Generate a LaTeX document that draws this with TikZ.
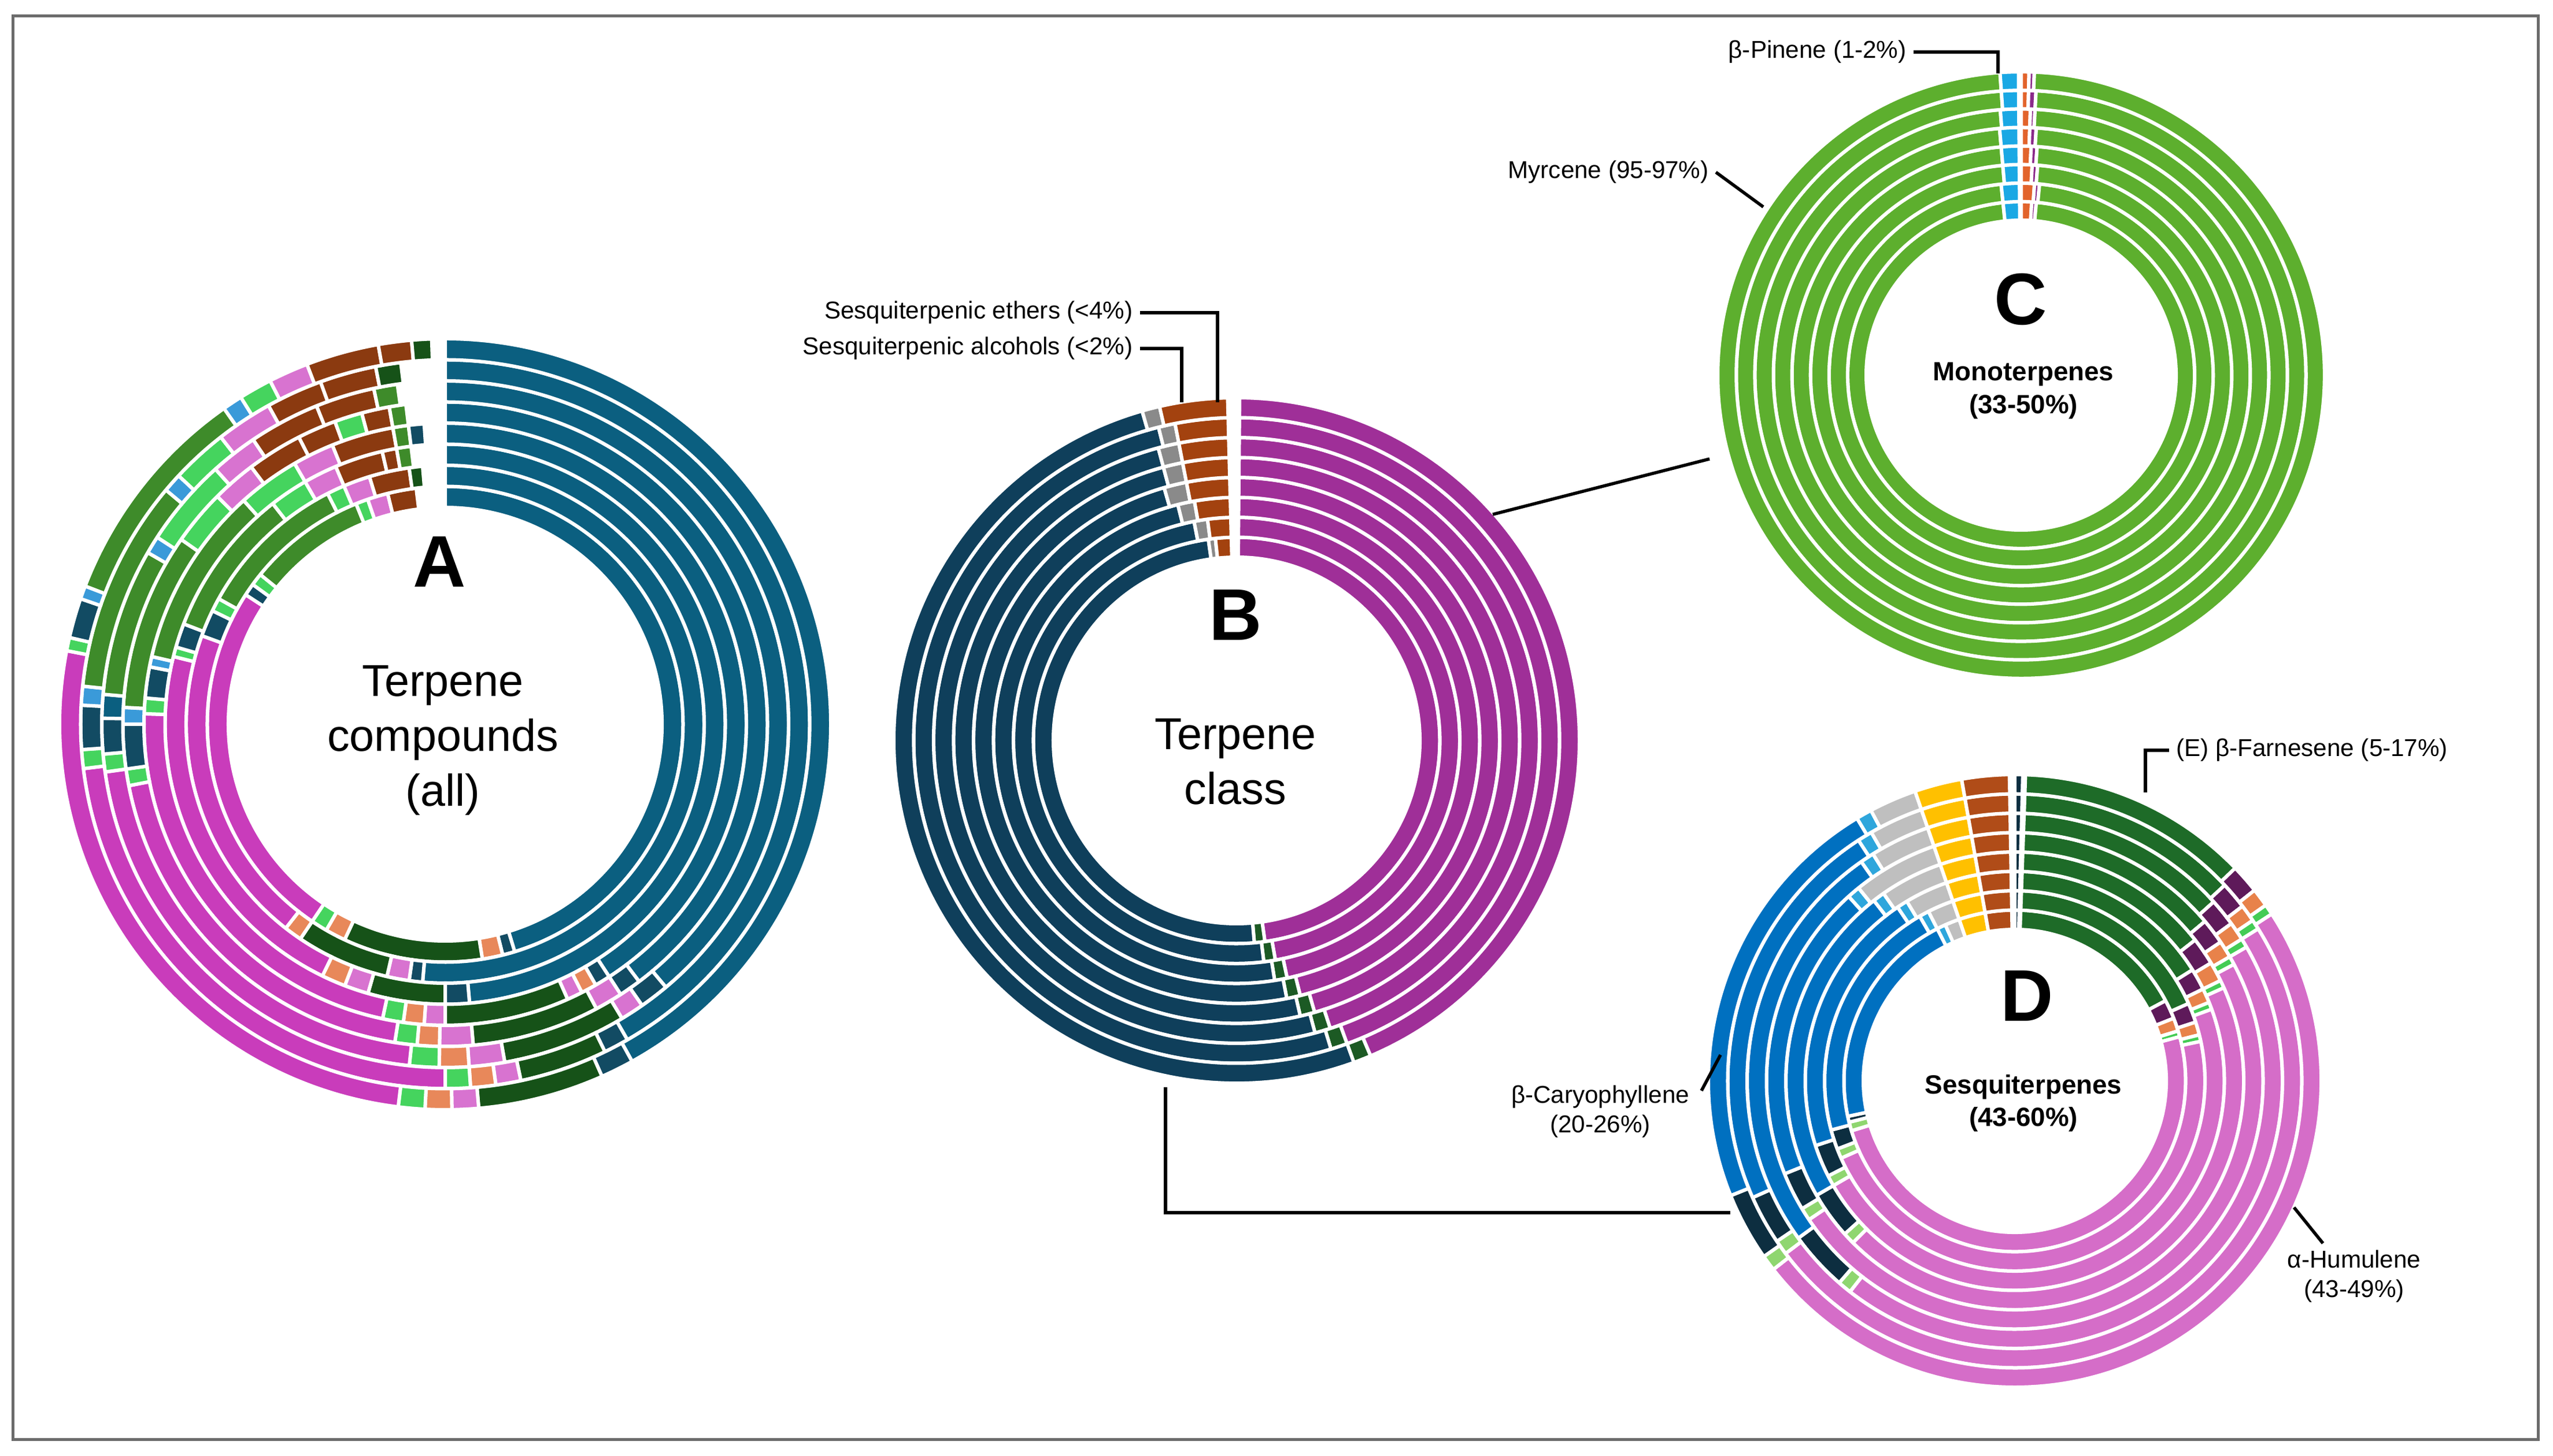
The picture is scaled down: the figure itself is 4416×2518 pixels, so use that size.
\documentclass[tikz,border=0pt]{standalone}
\usepackage{fontspec}
\setmainfont{Liberation Sans}
\usetikzlibrary{calc}
\definecolor{Ablu}{HTML}{0B5F80}\definecolor{Amag}{HTML}{C93CBB}\definecolor{Agr}{HTML}{3E8B2A}
\definecolor{Adg}{HTML}{165218}\definecolor{Abr}{HTML}{8B3A10}\definecolor{Algr}{HTML}{45D45E}
\definecolor{Apk}{HTML}{D873D0}\definecolor{Anav}{HTML}{124B63}\definecolor{Asb}{HTML}{3A9AD9}
\definecolor{Aor}{HTML}{E8885A}
\definecolor{Bnav}{HTML}{0F3F5B}\definecolor{Bpur}{HTML}{9F2F98}\definecolor{Bbr}{HTML}{A3420F}
\definecolor{Bgy}{HTML}{8A8A8A}\definecolor{Bdg}{HTML}{1C5A24}
\definecolor{Cgr}{HTML}{5DAF2E}\definecolor{Csk}{HTML}{1AA8E4}\definecolor{Cor}{HTML}{E2642C}\definecolor{Cpu}{HTML}{8B2A8A}
\definecolor{Dblu}{HTML}{0070C0}\definecolor{Dpk}{HTML}{D56DC8}\definecolor{Ddg}{HTML}{1E6B28}
\definecolor{Dbr}{HTML}{B04C18}\definecolor{Dye}{HTML}{FFC000}\definecolor{Dgy}{HTML}{BFBFBF}
\definecolor{Dnv}{HTML}{0D2E40}\definecolor{Dlg}{HTML}{8FD670}\definecolor{Dpu}{HTML}{5E1A5A}
\definecolor{Dsk}{HTML}{2EA6DC}\definecolor{Dor}{HTML}{E8824A}\definecolor{Dgl}{HTML}{44CC55}
\newcommand\sg[7]{\fill[fill=#7,draw=white,line width=0.6mm] ($(#1,#2)+({90-(#5)}:{(#4)*0.1mm})$) arc[start angle={90-(#5)},end angle={90-(#6)},radius={(#4)*0.1mm}] -- ($(#1,#2)+({90-(#6)}:{(#3)*0.1mm})$) arc[start angle={90-(#6)},end angle={90-(#5)},radius={(#3)*0.1mm}] -- cycle;}
\newcommand\Rg[5]{\foreach \a/\b/\c in {#5}{\sg{#1}{#2}{#3}{#4}{\a}{\b}{\c}}}
\newcommand\RA[2]{\pgfmathsetmacro\ri{375+(#1-1)*36.5}\pgfmathsetmacro\ro{\ri+36.5}\Rg{770}{1265}{\ri}{\ro}{#2}}
\newcommand\RB[2]{\pgfmathsetmacro\ri{317+(#1-1)*34.5}\pgfmathsetmacro\ro{\ri+34.5}\Rg{2139}{1237}{\ri}{\ro}{#2}}
\newcommand\RC[2]{\pgfmathsetmacro\ri{268+(#1-1)*32.1}\pgfmathsetmacro\ro{\ri+32.1}\Rg{3496}{1869}{\ri}{\ro}{#2}}
\newcommand\DRing[6]{\pgfmathsetmacro\ri{262+(#1-1)*33.5}\pgfmathsetmacro\ro{\ri+33.5}%
 \pgfmathsetmacro\m{(#2+#3)/2}%
 \sg{3485}{648}{\ri}{\ro}{0}{1.5}{Dnv}\sg{3485}{648}{\ri}{\ro}{2}{#2}{Ddg}%
 \sg{3485}{648}{\ri}{\ro}{#2}{\m}{Dpu}\sg{3485}{648}{\ri}{\ro}{\m}{#3-2}{Dor}\sg{3485}{648}{\ri}{\ro}{#3-2}{#3}{Dgl}%
 \sg{3485}{648}{\ri}{\ro}{#3}{#4}{Dpk}\sg{3485}{648}{\ri}{\ro}{#4}{#4+3}{Dlg}\sg{3485}{648}{\ri}{\ro}{#4+3}{#5}{Dnv}%
 \sg{3485}{648}{\ri}{\ro}{#5}{#6}{Dblu}\sg{3485}{648}{\ri}{\ro}{#6}{#6+3}{Dsk}\sg{3485}{648}{\ri}{\ro}{#6+3}{341}{Dgy}%
 \sg{3485}{648}{\ri}{\ro}{341}{350}{Dye}\sg{3485}{648}{\ri}{\ro}{350}{359}{Dbr}}
\tikzset{big/.style={font=\fontsize{22}{27}\selectfont,align=center},
 let/.style={font=\fontsize{36}{40}\selectfont\bfseries},
 sub/.style={font=\fontsize{13}{16}\selectfont\bfseries,align=center},
 lab/.style={font=\fontsize{12}{14.5}\selectfont},
 lead/.style={line width=0.55mm,black}}
\begin{document}
\begin{tikzpicture}[x=0.1mm,y=0.1mm]
\useasboundingbox (0,0) rectangle (4416,2518);
\fill[white] (0,0) rectangle (4416,2518);
\draw[gray!85!black,line width=0.5mm] (22,28) rectangle (4390,2490);
% Chart A
\RA{1}{0/163/Ablu,163/166/Anav,166/171/Aor,171/205/Adg,205/210/Aor,210/214/Algr,214/303/Amag,303/306/Anav,306/309/Algr,309/338/Agr,338/341/Algr,341/346/Apk,346/353/Abr}
\RA{2}{0/185/Ablu,185/188/Anav,188/193/Apk,193/214/Adg,214/218/Aor,218/290/Amag,290/296/Anav,296/299/Algr,299/333/Agr,333/337/Algr,337/343/Apk,343/352/Abr,352/355/Adg}
\RA{3}{0/175/Ablu,175/180/Anav,180/196/Adg,196/201/Apk,201/206/Aor,206/284/Amag,284/286/Algr,286/291/Anav,291/322/Agr,322/330/Algr,330/337/Apk,337/347/Abr,347/350/Abr,350/353/Agr}
\RA{4}{0/147/Ablu,147/150/Anav,150/153/Aor,153/156/Apk,156/180/Adg,180/184/Apk,184/188/Aor,188/192/Algr,192/272/Amag,272/275/Algr,275/281/Anav,281/283/Asb,283/318/Agr,318/330/Algr,330/338/Apk,338/350/Abr,350/353/Agr,353/356/Anav}
\RA{5}{0/143/Ablu,143/147/Anav,147/152/Apk,152/175/Adg,175/181/Apk,181/185/Aor,185/189/Algr,189/259/Amag,259/262/Algr,262/270/Anav,270/273/Asb,273/305/Agr,305/315/Algr,315/323/Apk,323/333/Abr,333/340/Abr,340/345/Algr,345/350/Abr,350/353/Agr}
\RA{6}{0/140/Ablu,140/145/Anav,145/149/Apk,149/170/Adg,170/176/Apk,176/181/Aor,181/186/Algr,186/262/Amag,262/265/Algr,265/271/Anav,271/275/Ablu,275/300/Agr,300/303/Asb,303/318/Algr,318/326/Apk,326/338/Abr,338/348/Abr,348/352/Agr}
\RA{7}{0/150/Ablu,150/154/Anav,154/168/Adg,168/172/Apk,172/176/Aor,176/180/Algr,180/263/Amag,263/266/Algr,266/273/Anav,273/276/Asb,276/310/Agr,310/313/Asb,313/322/Algr,322/331/Apk,331/340/Abr,340/349/Abr,349/353/Adg}
\RA{8}{0/151/Ablu,151/156/Anav,156/175/Adg,175/179/Apk,179/183/Aor,183/187/Algr,187/281/Amag,281/283/Algr,283/289/Anav,289/291/Asb,291/325/Agr,325/328/Asb,328/333/Algr,333/339/Apk,339/350/Abr,350/355/Abr,355/358/Adg}
% Chart B
\RB{1}{0.5/172/Bpur,172/175/Bdg,175/352/Bnav,352/354/Bgy,354/358.5/Bbr}
\RB{2}{0.5/170/Bpur,170/173/Bdg,173/349/Bnav,349/352.5/Bgy,352.5/358.5/Bbr}
\RB{3}{0.5/168/Bpur,168/171/Bdg,171/346/Bnav,346/350/Bgy,350/358.5/Bbr}
\RB{4}{0.5/166/Bpur,166/169/Bdg,169/344/Bnav,344/349/Bgy,349/358.5/Bbr}
\RB{5}{0.5/164/Bpur,164/167/Bdg,167/345/Bnav,345/349/Bgy,349/358.5/Bbr}
\RB{6}{0.5/162/Bpur,162/165/Bdg,165/345/Bnav,345/349/Bgy,349/358.5/Bbr}
\RB{7}{0.5/160/Bpur,160/163/Bdg,163/346/Bnav,346/349/Bgy,349/358.5/Bbr}
\RB{8}{0.5/157/Bpur,157/160/Bdg,160/344/Bnav,344/347/Bgy,347/358.5/Bbr}
% Chart C
\RC{1}{0/3.5/Cor,3.5/5/Cpu,5/354/Cgr,354/359.5/Csk}
\RC{2}{0/4/Cor,4/5.5/Cpu,5.5/354/Cgr,354/359.5/Csk}
\RC{3}{0/3/Cor,3/4.5/Cpu,4.5/355/Cgr,355/359.5/Csk}
\RC{4}{0/2.5/Cor,2.5/4/Cpu,4/355/Cgr,355/359.5/Csk}
\RC{5}{0/2/Cor,2/3.5/Cpu,3.5/355/Cgr,355/359.5/Csk}
\RC{6}{0/2/Cor,2/3/Cpu,3/355.5/Cgr,355.5/359.5/Csk}
\RC{7}{0/1.5/Cor,1.5/3/Cpu,3/356/Cgr,356/359.5/Csk}
\RC{8}{0/1.5/Cor,1.5/2.5/Cpu,2.5/356/Cgr,356/359.5/Csk}
% Chart D
\DRing{1}{62}{75}{253}{258}{333}
\DRing{2}{66}{78}{246}{255}{330}
\DRing{3}{58}{70}{240}{252}{326}
\DRing{4}{52}{66}{225}{240}{322}
\DRing{5}{50}{62}{236}{248}{318}
\DRing{6}{48}{60}{218}{234}{325}
\DRing{7}{47}{58}{233}{246}{327}
\DRing{8}{46}{57}{232}{248}{329}
% Texts
\node[let] (tA) at (760,1546) {A};
\node[big] (nA) at (766,1237) {Terpene\\compounds\\(all)};
\node[let] (tB) at (2137,1454) {B};
\node[big] (nB) at (2137,1200) {Terpene\\class};
\node[let] (tC) at (3495,2000) {C};
\node[sub] (nC) at (3500,1842) {Monoterpenes\\(33-50\%)};
\node[let] (tD) at (3506,795) {D};
\node[sub] (nD) at (3500,609) {Sesquiterpenes\\(43-60\%)};
\node[lab,anchor=east] (lP) at (3310,2428) {β-Pinene (1-2\%)};
\node[lab,anchor=east] (lM) at (2968,2220) {Myrcene (95-97\%)};
\node[lab,anchor=east] (lE) at (1972,1977) {Sesquiterpenic ethers (<4\%)};
\node[lab,anchor=east] (lAl) at (1972,1915) {Sesquiterpenic alcohols (<2\%)};
\node[lab,anchor=west] (lF) at (3752,1220) {(E) β-Farnesene (5-17\%)};
\node[lab,align=center] (lCa) at (2768,595) {β-Caryophyllene\\(20-26\%)};
\node[lab,align=center] (lH) at (4072,310) {α-Humulene\\(43-49\%)};
% leaders
\coordinate (p1) at (3456,2391); \draw[lead] (lP.east) -| (p1);
\coordinate (m1) at (3050,2160); \draw[lead] (lM.east) -- (m1);
\coordinate (e1) at (2106,1822); \draw[lead] (lE.east) -| (e1);
\coordinate (a1) at (2044,1822); \draw[lead] (lAl.east) -| (a1);
\coordinate (f1) at (3711,1147); \draw[lead] (lF.west) -| (f1);
\coordinate (c0) at (2943,631); \coordinate (c1) at (2976,693); \draw[lead] (c0) -- (c1);
\coordinate (h0) at (3968,429); \coordinate (h1) at (4018,367); \draw[lead] (h0) -- (h1);
\coordinate (bc0) at (2582,1628); \coordinate (bc1) at (2957,1724); \draw[lead] (bc0) -- (bc1);
\coordinate (bd0) at (2016,637); \coordinate (bd1) at (2993,420); \draw[lead] (bd0) |- (bd1);
\end{tikzpicture}
\end{document}
